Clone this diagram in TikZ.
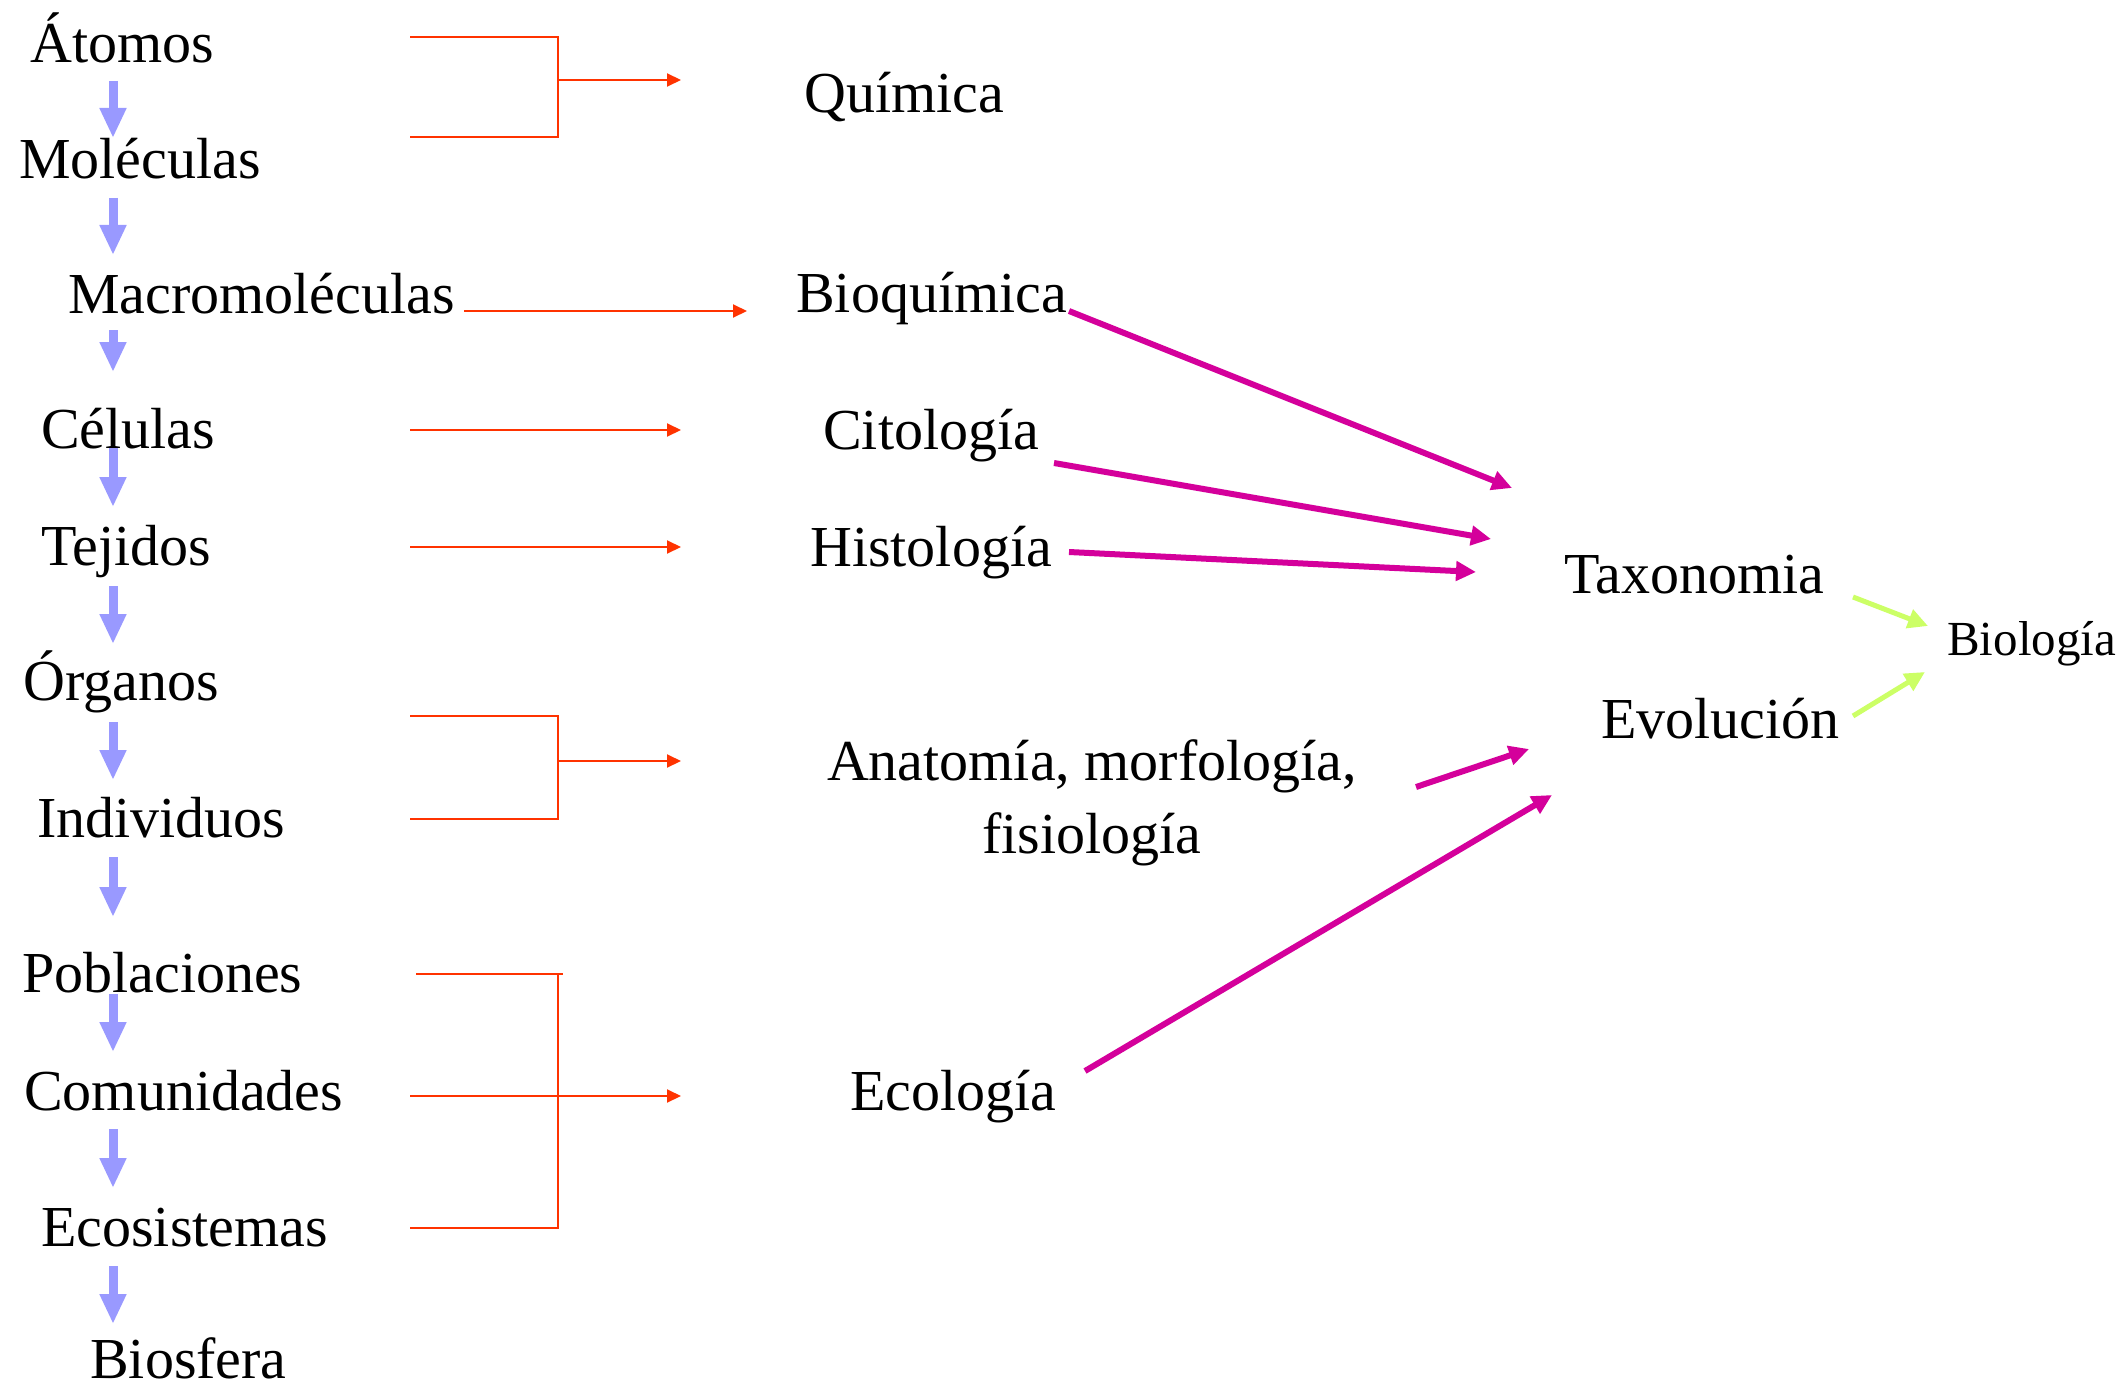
\documentclass[tikz,border=0pt]{standalone}
\usepackage{fontspec}
\setmainfont{Liberation Serif}
\usetikzlibrary{arrows.meta}
\definecolor{redl}{HTML}{FF3300}
\definecolor{bluea}{HTML}{9999FF}
\definecolor{mag}{HTML}{D4009B}
\definecolor{lime}{HTML}{CCFF66}
\tikzset{
  lbl/.style={anchor=base west,inner sep=0pt,font=\fontsize{58}{66}\selectfont},
  lblsmall/.style={anchor=base west,inner sep=0pt,font=\fontsize{49}{56}\selectfont},
  redline/.style={draw=redl,line width=2pt},
  redarrow/.style={draw=redl,line width=2pt,-{Triangle[length=14pt,width=13pt]}},
  bluearrow/.style={draw=bluea,line width=9pt,-{Triangle[length=30pt,width=25pt]}},
  magarrow/.style={draw=mag,line width=6pt,-{Triangle[length=20pt,width=19pt]}},
  limearrow/.style={draw=lime,line width=5pt,-{Triangle[length=20pt,width=19pt]}}
}
\begin{document}
\begin{tikzpicture}[x=1pt,y=-1pt]
\useasboundingbox[fill=white] (0,0) rectangle (2127,1388);
% left column
\node[lbl] (at) at (30,63) {Átomos};
\node[lbl] (mo) at (19,179) {Moléculas};
\node[lbl] (ma) at (68,313) {Macromoléculas};
\node[lbl] (ce) at (41,448) {Células};
\node[lbl] (te) at (41,565) {Tejidos};
\node[lbl] (or) at (23,700) {Órganos};
\node[lbl] (in) at (37,837) {Individuos};
\node[lbl] (po) at (22,992) {Poblaciones};
\node[lbl] (co) at (24,1110) {Comunidades};
\node[lbl] (ec) at (41,1246) {Ecosistemas};
\node[lbl] (bi) at (90,1378) {Biosfera};
% middle column
\node[lbl] (qu) at (804,113) {Química};
\node[lbl] (bq) at (796,312) {Bioquímica};
\node[lbl] (ci) at (823,449) {Citología};
\node[lbl] (hi) at (810,566) {Histología};
\node[lbl,anchor=base,align=center] (an) at (1092,853) {Anatomía, morfología,\\[7pt]fisiología};
\node[lbl] (eo) at (850,1110) {Ecología};
% right
\node[lbl] (ta) at (1564,593) {Taxonomia};
\node[lbl] (ev) at (1601,738) {Evolución};
\node[lblsmall] (bg) at (1947,655) {Biología};
% blue arrows
\coordinate (b1s) at (113,81);   \coordinate (b1e) at (113,138);
\coordinate (b2s) at (113,198);  \coordinate (b2e) at (113,255);
\coordinate (b3s) at (113,330);  \coordinate (b3e) at (113,372);
\coordinate (b4s) at (113,448);  \coordinate (b4e) at (113,507);
\coordinate (b5s) at (113,586);  \coordinate (b5e) at (113,644);
\coordinate (b6s) at (113,722);  \coordinate (b6e) at (113,780);
\coordinate (b7s) at (113,857);  \coordinate (b7e) at (113,917);
\coordinate (b8s) at (113,994);  \coordinate (b8e) at (113,1052);
\coordinate (b9s) at (113,1129); \coordinate (b9e) at (113,1188);
\coordinate (b10s) at (113,1266); \coordinate (b10e) at (113,1324);
\foreach \i in {1,...,10} {\draw[bluearrow] (b\i s) -- (b\i e);}
% red brackets
\coordinate (atL) at (410,37); \coordinate (moL) at (410,137);
\coordinate (brA) at (558,80); \coordinate (quT) at (681,80);
\draw[redline] (atL) -| (brA) |- (moL);
\draw[redarrow] (brA) -- (quT);
\coordinate (maS) at (464,311); \coordinate (maT) at (747,311);
\draw[redarrow] (maS) -- (maT);
\coordinate (ceS) at (410,430); \coordinate (ceT) at (681,430);
\draw[redarrow] (ceS) -- (ceT);
\coordinate (teS) at (410,547); \coordinate (teT) at (681,547);
\draw[redarrow] (teS) -- (teT);
\coordinate (orL) at (410,716); \coordinate (inL) at (410,819);
\coordinate (brB) at (558,761); \coordinate (anT) at (681,761);
\draw[redline] (orL) -| (brB) |- (inL);
\draw[redarrow] (brB) -- (anT);
\coordinate (poL) at (416,974); \coordinate (poR) at (563,974);
\coordinate (brT) at (558,974); \coordinate (ecL) at (410,1228);
\draw[redline] (poL) -- (poR);
\draw[redline] (brT) |- (ecL);
\coordinate (coS) at (410,1096); \coordinate (coT) at (681,1096);
\draw[redarrow] (coS) -- (coT);
% magenta arrows
\coordinate (m1s) at (1069,311); \coordinate (m1e) at (1512,488);
\coordinate (m2s) at (1054,463); \coordinate (m2e) at (1491,539);
\coordinate (m3s) at (1069,552); \coordinate (m3e) at (1476,572);
\coordinate (m4s) at (1416,787); \coordinate (m4e) at (1529,749);
\coordinate (m5s) at (1085,1071); \coordinate (m5e) at (1552,795);
\draw[magarrow] (m1s) -- (m1e);
\draw[magarrow] (m2s) -- (m2e);
\draw[magarrow] (m3s) -- (m3e);
\draw[magarrow] (m4s) -- (m4e);
\draw[magarrow] (m5s) -- (m5e);
% lime arrows
\coordinate (g1s) at (1853,597); \coordinate (g1e) at (1928,626);
\coordinate (g2s) at (1853,716); \coordinate (g2e) at (1925,672);
\draw[limearrow] (g1s) -- (g1e);
\draw[limearrow] (g2s) -- (g2e);
\end{tikzpicture}
\end{document}
